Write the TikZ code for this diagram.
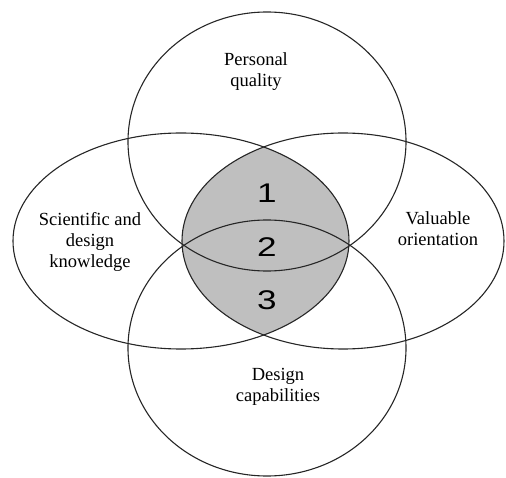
\documentclass[tikz,border=0pt]{standalone}
\usepackage{fontspec}
\setmainfont{Liberation Serif}
\newfontfamily\digitfont{Liberation Sans}
\usetikzlibrary{positioning}

\begin{document}
\begin{tikzpicture}[x=1pt, y=1pt,
                every node/.style={align=center, inner sep=0pt, font=\fontsize{18.5}{21}\selectfont},
                region/.style={draw=black!85, line width=1.1pt},
                number/.style={font=\digitfont\fontsize{27}{27}\selectfont, xscale=1.3, transform shape}]
                \useasboundingbox (0,0) rectangle (506,477);
                % shaded core: left and right ellipses overlap
                \begin{scope}
                \clip (181,236) ellipse [x radius=168, y radius=108];
                \fill[black!25] (343,236) ellipse [x radius=161, y radius=108];
                \end{scope}
                \draw[region] (267,335.5) ellipse [x radius=139, y radius=129.5];
                \draw[region] (267,129) ellipse [x radius=139, y radius=128];
                \draw[region] (181,236) ellipse [x radius=168, y radius=108];
                \draw[region] (343,236) ellipse [x radius=161, y radius=108];
                \node (quality) at (256,405) {Personal\\quality};
                \node (knowledge) at (90,235) {Scientific and\\design\\knowledge};
                \node (orientation) at (438,248) {Valuable\\orientation};
                \node (capabilities) at (278,90) {Design\\capabilities};
                \node[number] (one) at (267,284) {1};
                \node[number] (two) at (267,230) {2};
                \node[number] (three) at (267,177) {3};
                \end{tikzpicture}
\end{document}
